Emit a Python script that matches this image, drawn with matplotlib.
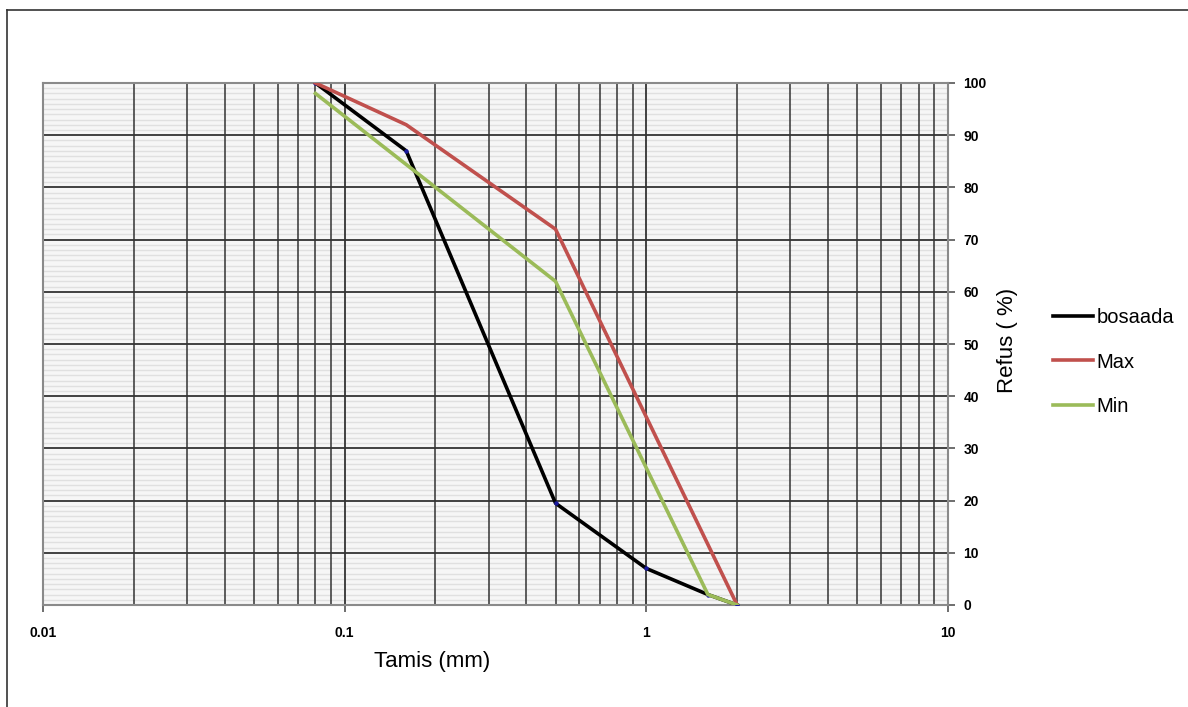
import matplotlib
matplotlib.use("Agg")
import matplotlib.pyplot as plt
import numpy as np
from matplotlib.ticker import LogLocator, FixedLocator, NullFormatter
from matplotlib.lines import Line2D

# Data
bosaada_x = [0.08, 0.16, 0.5, 1.0, 1.6, 2.0]
bosaada_y = [100, 87, 19.5, 7, 2, 0]
max_x = [0.08, 0.16, 0.5, 2.0]
max_y = [100, 92, 72, 0]
min_x = [0.08, 0.5, 1.6, 2.0]
min_y = [98, 62, 2, 0]
x_ticks = [0.01, 0.1, 1, 10]
x_tick_labels = ["0.01", "0.1", "1", "10"]
y_ticks = list(range(0, 101, 10))

FONT = ['Liberation Sans', 'DejaVu Sans']

fig = plt.figure(figsize=(11.88, 7.07), dpi=100)
ax = fig.add_axes([43/1188, 1-605/707, (948-43)/1188, (605-83)/707])
ax.set_facecolor('#f6f6f6')

ax.set_xscale('log')
ax.set_xlim(0.01, 10)
ax.set_ylim(0, 100)

ax.xaxis.set_major_locator(FixedLocator(x_ticks))
ax.set_xticklabels(x_tick_labels)
ax.xaxis.set_minor_locator(LogLocator(base=10, subs=range(2, 10)))
ax.xaxis.set_minor_formatter(NullFormatter())
ax.yaxis.set_major_locator(FixedLocator(y_ticks))

# light horizontal minor lines (every 1 %)
for v in np.arange(1, 100, 1):
    if v % 10:
        ax.axhline(v, color='#e0e0e0', lw=1.0, zorder=0.3)
# dark grid
ax.grid(which='major', axis='both', color='#333333', lw=1.3)
ax.grid(which='minor', axis='x', color='#333333', lw=1.1)
ax.set_axisbelow(True)

ax.yaxis.tick_right()
ax.tick_params(axis='y', which='major', right=True, left=False, length=5,
               width=1.2, color='#555555', pad=6)
ax.tick_params(axis='y', which='minor', right=False, left=False)
ax.tick_params(axis='x', which='major', length=5, width=1.2, color='#555555', pad=10)
ax.tick_params(axis='x', which='minor', length=0)
for lbl in ax.get_xticklabels() + ax.get_yticklabels():
    lbl.set_family(FONT)
    lbl.set_fontweight('bold')
    lbl.set_fontsize(10)

for s in ax.spines.values():
    s.set_color('#8a8a8a')
    s.set_linewidth(1.5)

lw = 2.6
ax.plot(bosaada_x, bosaada_y, color='black', lw=lw, marker='o', ms=2.2,
        mfc='#1a1aa0', mec='#1a1aa0', zorder=3, label='bosaada')
ax.plot(max_x, max_y, color='#c0504d', lw=lw, zorder=4, label='Max')
ax.plot(min_x, min_y, color='#9bbb59', lw=lw, zorder=5, label='Min')

fig.text(432/1188, 1-662/707, 'Tamis (mm)', ha='center', va='center',
         fontsize=16, family=FONT)
fig.text(1008/1188, 1-340/707, 'Refus ( %)', ha='center', va='center',
         rotation=90, fontsize=16, family=FONT)

handles = [Line2D([], [], color='black', lw=2.6),
           Line2D([], [], color='#c0504d', lw=2.6),
           Line2D([], [], color='#9bbb59', lw=2.6)]
leg = fig.legend(handles, ['bosaada', 'Max', 'Min'], loc='center left',
                 bbox_to_anchor=(1043/1188, 1-362/707), frameon=False,
                 prop={'family': FONT, 'size': 14.5}, handlelength=2.0,
                 handletextpad=0.15, labelspacing=1.25, borderpad=0)

# outer frame lines (left and top)
fig.add_artist(Line2D([7/1188, 7/1188], [0, 1-10/707], transform=fig.transFigure,
                      color='#333333', lw=1.2))
fig.add_artist(Line2D([7/1188, 1], [1-10/707, 1-10/707], transform=fig.transFigure,
                      color='#333333', lw=1.2))

fig.savefig('out.png', dpi=100)
